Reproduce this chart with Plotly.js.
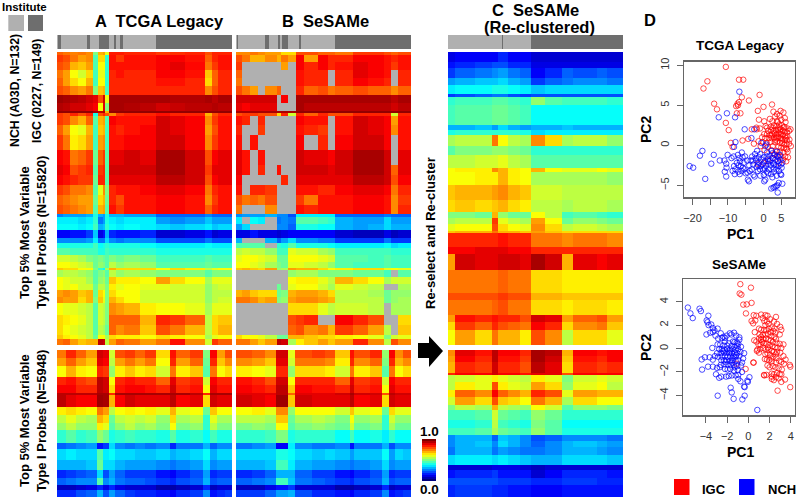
<!DOCTYPE html>
<html><head><meta charset="utf-8">
<script src="https://cdn.plot.ly/plotly-3.0.1.min.js"></script>
<style>html,body{margin:0;padding:0;background:#fff}#c{width:796px;height:497px}</style>
</head><body><div id="c"></div>
<script>
const n = null;
// ---- Institute annotation bars (sample index edges; 0 = NCH, 1 = IGC)
const instEdgesA = [0,2,6,48,53,68,72,73,84,92,94,101,106,159,281];
const instA = [0,1,0,1,0,1,0,1,0,1,0,1,0,1];
const instEdgesB = [0,2,3,47,53,67,70,74,84,101,105,159,281];
const instB = [0,1,0,1,0,1,0,1,0,1,0,1];
const instEdgesC = [0,87,89,133,281];
const instC = [0,1,0,1];
// ---- Probe bin edges
const rowsTypeII = [0,3,10,18,26,34,43,51,59,61,64,73,83,98,113,123,133,143,153,162,165,172,178,186,191,196,203,210,216,218,225,232,238,245,251,263,273,283,287,293];
const rowsTypeI = [0,8,16,27,35,43,45,57,65,73,80,93,99,110,120,128,135,140,147];
const rowsTypeIIC = [0,10,16,26,33,42,45,53,73,78,83,94,103,116,120,133,148,160,166,172,179,181,195,202,218,241,248,263,270,278,293];
const rowsTypeIC = [0,6,12,23,25,32,40,47,55,60,70,78,85,91,97,105,115,120,128,135,147];
// ---- Sample bin edges
const colsATop = [0,10,21,34,47,58,66,74,77,84,95,108,133,159,181,206,238,249,259,281];
const colsABot = [0,14,31,47,64,74,84,93,109,125,141,159,181,191,214,234,246,257,270,281];
const colsBTop = [0,10,22,35,47,66,72,84,96,109,132,148,159,188,212,238,249,260,281];
const colsBBot = [0,26,47,64,84,95,122,143,159,183,190,215,234,246,255,268,281];
const colsC = [0,11,43,71,80,96,116,133,156,183,201,239,255,281];
// ---- Methylation beta x 100
const aTop = [
[78,76,75,76,74,50,70,72,60,85,85,84,84,82,83,84,80,84,84],
[82,80,76,72,74,45,66,66,42,86,82,86,86,88,88,86,78,84,86],
[80,78,70,68,72,45,62,62,42,86,86,86,86,88,90,87,76,82,86],
[76,72,62,58,66,44,60,60,42,84,86,84,84,88,88,86,68,78,84],
[78,72,66,62,70,44,62,62,42,84,84,84,84,86,86,84,66,78,84],
[80,78,74,72,76,50,68,70,44,84,84,84,84,84,84,84,74,80,84],
[97,96,95,94,92,90,80,92,60,96,96,96,96,96,95,95,96,94,96],
[95,94,92,92,90,88,62,90,50,96,96,95,94,92,93,94,94,95,94],
[98,98,98,98,98,96,94,96,70,98,98,98,98,98,98,98,98,98,98],
[82,80,84,80,84,40,80,84,80,74,82,84,84,86,84,84,70,80,84],
[82,80,74,70,78,46,70,72,45,88,86,86,86,92,90,88,74,82,86],
[78,72,62,60,70,44,68,70,44,86,84,86,88,92,90,88,72,80,86],
[82,76,64,66,72,44,72,74,44,86,86,88,88,92,92,88,74,82,86],
[88,86,76,78,82,48,78,82,46,90,90,92,90,96,96,92,80,88,90],
[90,88,80,82,84,46,82,84,46,92,92,92,92,96,96,92,82,90,90],
[88,86,84,82,82,48,84,84,46,90,90,90,90,94,94,92,80,88,90],
[82,80,76,76,74,46,60,74,50,84,86,86,88,90,90,88,76,84,86],
[78,76,74,72,72,48,66,70,48,84,80,86,86,88,88,86,74,82,86],
[80,78,76,74,72,46,70,72,46,86,82,86,86,88,88,86,78,84,86],
[25,28,28,28,30,40,30,28,40,30,30,28,28,22,22,22,25,22,22],
[36,36,36,34,36,42,24,28,40,36,34,36,36,28,26,28,32,28,28],
[38,38,38,36,38,44,30,32,42,38,36,38,36,34,32,34,36,32,34],
[12,12,14,14,18,32,10,14,30,16,14,14,16,8,8,10,14,8,10],
[26,26,26,26,28,36,24,24,34,26,24,26,26,20,20,20,24,20,20],
[40,40,40,40,40,44,38,40,42,40,40,40,38,36,36,36,38,36,36],
[46,46,44,44,44,44,40,40,44,42,42,42,42,40,40,40,40,40,40],
[58,58,56,54,50,48,50,48,46,50,48,50,48,44,44,44,46,44,44],
[62,62,60,58,56,48,52,50,46,56,52,54,52,46,46,46,48,46,46],
[68,66,66,62,62,50,42,38,54,70,66,66,66,62,66,64,56,60,62],
[54,56,56,54,52,46,50,52,46,56,52,54,52,50,50,50,46,50,50],
[62,60,58,58,54,46,52,54,48,68,64,64,62,72,66,62,54,60,60],
[62,60,62,58,58,48,56,56,50,64,60,62,60,60,58,58,52,56,58],
[72,74,72,68,70,48,66,62,50,66,62,62,58,58,58,58,52,56,56],
[74,72,72,66,70,50,68,60,50,70,66,62,58,58,58,58,52,56,58],
[62,60,60,58,56,46,58,56,50,74,72,70,64,62,62,60,54,60,60],
[66,64,62,60,56,46,58,56,50,78,78,78,70,84,82,78,56,66,68],
[66,62,60,58,56,46,56,54,48,78,74,76,68,80,76,70,56,66,70],
[68,64,62,60,56,48,62,62,54,66,64,64,62,66,64,62,54,60,62],
[76,78,72,68,70,70,94,92,56,72,78,76,72,76,86,74,58,82,78]];
const aBot = [
[76,84,78,72,92,90,58,80,82,78,82,66,86,78,82,50,88,72,80],
[72,78,72,68,90,88,56,72,76,72,76,62,84,72,78,48,84,68,74],
[62,70,64,62,84,82,52,64,68,64,66,58,76,64,68,46,76,62,66],
[84,86,82,80,94,92,62,84,86,84,84,78,90,82,84,58,88,84,84],
[88,88,84,84,94,92,66,86,88,88,86,84,92,84,86,62,90,86,86],
[94,94,94,94,96,96,84,96,96,96,96,96,96,96,94,84,96,96,96],
[94,90,88,88,97,96,70,88,92,90,90,90,94,88,90,66,92,90,90],
[64,66,64,62,76,72,56,62,64,62,64,60,70,60,62,48,68,62,62],
[56,60,56,54,70,66,48,56,58,56,58,52,66,54,56,42,60,54,54],
[52,56,52,52,64,60,46,52,56,52,54,50,62,50,52,42,56,50,50],
[42,46,42,44,52,48,40,42,44,42,42,40,46,40,42,38,44,40,40],
[22,24,26,28,14,18,34,26,24,26,24,26,16,24,24,30,22,26,26],
[34,36,34,34,46,36,38,34,34,32,32,34,30,32,34,38,30,34,34],
[30,30,30,32,48,34,34,30,28,28,28,26,24,26,28,34,26,28,28],
[16,18,20,22,34,20,28,22,18,18,18,14,12,16,20,28,16,18,18],
[22,24,26,26,46,26,30,24,22,22,20,18,16,20,22,30,20,22,22],
[6,6,8,10,16,10,16,10,8,8,8,4,4,6,8,16,6,8,8],
[16,16,20,22,30,20,28,22,18,16,16,14,12,16,18,26,14,16,18]];
const bTop = [
[74,74,76,74,72,72,66,66,80,80,78,78,76,82,82,80,78,80],
[80,76,70,70,74,70,76,72,88,72,88,84,84,88,88,86,84,86],
[82,n,n,n,n,n,72,n,88,84,88,84,86,90,88,86,82,86],
[78,n,n,n,n,n,n,n,86,84,84,n,84,90,88,86,n,84],
[76,n,n,n,n,n,n,n,86,84,84,n,84,88,86,84,n,84],
[80,76,72,n,74,78,n,n,84,78,80,76,78,80,78,78,74,78],
[92,92,92,92,92,n,88,n,96,96,96,96,96,96,96,96,94,96],
[90,88,90,90,90,n,n,n,96,94,94,94,94,94,94,94,92,94],
[96,96,96,96,96,96,96,96,98,98,98,98,98,98,98,98,98,98],
[80,82,82,80,80,66,84,58,84,78,84,80,80,84,84,84,58,84],
[86,84,n,84,n,n,n,n,88,86,86,n,86,92,90,88,72,86],
[84,n,n,82,n,n,n,n,86,84,82,n,86,92,90,88,74,86],
[86,n,86,n,n,n,n,n,88,n,84,n,88,92,92,88,n,86],
[90,86,n,86,n,n,n,n,92,90,90,88,92,96,96,92,n,90],
[90,86,n,84,n,86,n,n,92,92,92,90,92,96,96,92,78,90],
[88,n,n,n,n,n,84,n,90,90,90,90,90,94,94,92,80,88],
[86,n,84,84,82,n,n,n,86,86,84,84,88,90,90,88,76,84],
[80,76,78,76,80,n,n,n,82,76,86,86,86,88,88,86,74,82],
[76,n,n,n,74,n,n,n,86,84,86,86,86,88,88,86,74,84],
[26,28,28,28,30,26,26,20,36,36,36,36,22,22,22,24,22,22],
[36,n,38,36,n,24,26,24,46,46,44,42,30,28,28,34,28,28],
[28,34,n,n,n,26,26,22,40,40,38,38,30,28,30,34,30,30],
[10,10,14,10,10,8,10,12,12,12,12,12,8,6,6,10,6,8],
[30,n,n,n,30,22,28,34,26,26,24,24,18,18,18,24,18,18],
[45,46,46,46,n,42,40,46,40,40,40,38,36,36,36,38,34,36],
[56,58,56,56,52,44,44,60,58,58,54,52,44,44,44,44,42,42],
[60,62,62,60,58,48,48,62,62,62,60,58,46,46,44,46,44,44],
[62,62,60,58,54,50,48,60,60,58,56,52,46,44,44,46,44,44],
[68,70,68,66,72,52,54,72,70,70,66,62,64,66,66,60,62,60],
[n,n,n,n,n,n,n,52,54,54,50,50,50,48,48,44,n,46],
[n,n,n,n,n,n,n,62,64,64,60,56,70,66,62,54,58,58],
[n,n,n,n,n,48,n,60,62,62,58,54,60,58,56,n,n,54],
[70,72,68,66,66,48,50,70,72,72,70,66,56,56,54,48,52,52],
[76,76,74,70,72,50,52,72,74,74,72,70,56,56,56,48,52,54],
[n,n,n,n,n,n,n,66,66,66,60,56,58,58,56,n,54,54],
[n,n,n,n,n,n,n,80,82,84,n,n,88,84,80,n,n,66],
[n,n,n,n,n,n,n,78,80,74,76,70,82,78,72,56,n,68],
[66,62,62,60,56,48,48,70,70,68,66,66,64,62,60,50,58,60],
[76,76,72,68,72,94,92,54,64,68,72,68,72,84,74,56,80,74]];
const bBot = [
[80,78,74,92,60,80,82,80,68,86,80,84,52,88,74,80],
[74,72,68,90,58,76,76,74,64,84,74,78,50,84,70,74],
[64,62,60,84,52,66,66,64,58,76,64,68,46,76,62,66],
[86,84,80,92,62,84,84,84,78,90,82,84,58,88,84,84],
[88,86,84,94,68,88,86,86,84,92,84,86,62,90,86,86],
[90,90,90,94,78,90,90,90,92,96,92,92,80,94,92,92],
[92,90,88,97,68,92,90,90,90,94,88,90,66,92,90,90],
[62,64,60,74,52,62,62,62,58,68,60,62,48,66,60,60],
[56,56,54,68,48,54,56,54,50,62,52,54,42,58,52,52],
[50,52,50,62,46,50,52,50,48,58,48,50,42,54,48,48],
[42,42,44,50,40,42,42,42,38,44,38,40,36,42,38,38],
[24,26,28,12,36,26,24,24,26,14,24,24,30,20,26,26],
[34,34,34,40,38,34,32,34,32,28,32,32,38,28,34,32],
[30,30,32,44,36,30,28,28,26,24,26,28,34,26,28,28],
[16,18,22,30,30,22,18,18,14,12,16,20,28,16,18,18],
[22,24,26,44,32,24,22,20,18,16,20,22,30,20,22,22],
[6,6,10,14,18,8,8,8,4,4,6,8,16,6,8,8],
[18,18,22,28,30,20,16,16,14,12,16,18,26,14,16,18]];
const cTop = [
[10,12,12,12,16,12,12,8,8,8,8,8,8],
[14,16,18,20,20,16,16,10,10,10,10,10,10],
[18,22,24,26,28,24,22,12,16,22,20,22,20],
[28,30,32,32,34,30,28,18,22,24,26,26,24],
[36,38,38,40,40,38,36,32,34,34,34,34,34],
[18,20,22,24,24,20,18,20,20,20,20,20,20],
[42,44,44,46,46,44,42,52,46,44,44,44,42],
[44,46,46,48,48,46,44,38,38,38,38,38,38],
[30,30,32,28,34,30,28,30,30,32,30,30,30],
[40,42,42,42,42,42,40,34,36,36,36,36,36],
[54,56,56,76,62,56,54,74,66,54,56,56,52],
[46,50,50,52,52,50,48,42,42,42,42,42,42],
[56,56,58,58,60,56,54,46,46,46,46,46,46],
[62,64,64,74,70,64,62,70,62,60,60,62,60],
[62,62,64,64,70,64,62,54,54,54,54,54,52],
[68,70,70,72,74,70,68,58,58,56,56,56,56],
[66,68,66,68,70,66,64,56,56,54,56,56,54],
[50,50,48,70,52,48,48,62,56,44,46,44,42],
[54,56,56,82,60,56,54,72,62,48,52,50,48],
[60,62,62,80,66,62,60,74,66,56,58,56,54],
[68,70,70,76,70,70,68,72,68,66,66,66,66],
[84,84,84,84,86,84,84,76,76,74,76,76,74],
[88,88,90,90,90,88,88,84,84,84,84,84,84],
[72,92,90,90,92,92,90,96,92,70,90,88,90],
[76,76,76,76,78,76,76,66,66,64,64,64,64],
[80,80,80,80,82,80,80,70,70,68,68,68,68],
[76,76,76,78,80,76,76,66,66,64,66,66,64],
[72,86,84,86,84,84,80,92,90,72,78,80,72],
[66,82,78,84,80,78,76,88,84,66,74,76,68],
[62,72,66,76,70,70,64,80,74,56,66,66,60]];
const cBot = [
[74,90,86,94,88,88,84,96,94,70,88,86,88],
[72,88,84,94,86,86,82,96,92,68,86,84,88],
[70,84,82,92,84,84,80,94,90,66,84,82,84],
[84,88,88,92,88,88,86,90,90,80,88,88,88],
[56,58,60,64,60,58,56,64,60,50,58,60,58],
[56,64,60,80,64,60,58,72,66,52,60,62,56],
[64,78,74,88,78,74,70,84,80,60,72,70,70],
[58,72,66,80,68,66,62,76,70,54,66,62,62],
[50,56,54,70,56,54,52,62,58,46,52,52,50],
[44,44,46,58,48,46,44,52,48,42,42,42,42],
[40,40,42,56,44,42,40,50,46,38,38,38,38],
[44,44,46,54,48,46,44,52,46,40,40,40,40],
[26,30,30,22,32,30,26,20,22,26,26,26,24],
[26,30,32,26,34,30,26,22,26,30,32,30,28],
[24,30,30,24,28,26,24,24,26,30,30,28,26],
[34,36,36,34,36,34,32,30,30,34,34,34,32],
[8,8,8,10,10,10,8,6,8,8,8,8,8],
[14,16,16,18,14,14,14,8,12,16,16,16,14],
[20,20,20,20,18,18,18,16,16,18,18,16,16],
[16,18,18,16,16,14,14,12,12,14,14,14,14]];
const scaleLevels = [[100],[95],[90],[85],[80],[75],[70],[65],[60],[55],[50],[45],[40],[35],[30],[25],[20],[15],[10],[5],[0]];
// ---- PCA scores [PC1, PC2]
const tcgaIgc = [[-10.6,9.8],[-15.8,8],[-16.9,7.1],[-6.9,8.2],[-5.7,8.2],[-1.1,6.3],[-6.1,6],[-4.1,5.6],[-13.9,5.2],[-13.1,4.5],[-7.3,5.2],[-6.9,5.4],[-7.7,4.9],[-7.2,5],[-7.5,4],[-6.5,4],[2.4,5.1],[0,4.8],[-1.6,4.3],[-10.6,2.8],[-9.8,1.9],[-9.2,.3],[-8.7,-.2],[-5.9,.6],[-4.3,.8],[-3.3,2],[-1.9,2],[2.8,4.2],[4.8,4.3],[5.6,4.1],[3.8,3.9],[3.3,3.6],[4.5,3.7],[6,3.4],[1.8,3.3],[-1.3,3.2],[.2,3],[2.5,3],[3.8,3],[5,3.2],[6.2,2.9],[.6,2.4],[-2,2.2],[-1,2.1],[1,2.2],[2,2.3],[2.9,2.5],[3.6,2.4],[4.4,2.6],[5.2,2.5],[5.9,2.3],[6.8,2.1],[7.6,2],[1.3,1.8],[2.2,1.9],[2.9,1.8],[3.5,1.9],[4.1,1.9],[4.8,2],[5.4,1.8],[6,1.7],[6.6,1.6],[7.2,1.8],[.2,1.4],[1,1.4],[1.8,1.3],[2.5,1.4],[3.1,1.5],[3.7,1.4],[4.3,1.5],[4.9,1.4],[5.5,1.3],[6.1,1.2],[6.7,1.1],[-.4,1],[.5,.9],[1.5,.9],[2.3,.9],[3,1],[3.6,.9],[4.2,1],[4.8,.9],[5.4,.8],[6,.7],[6.6,.6],[7.3,.7],[-1.4,.5],[-.2,.4],[.9,.3],[2,.4],[3.2,.4],[3.9,.5],[4.6,.3],[5.3,.3],[5.9,.1],[6.5,.1],[7.2,.2],[-2.7,.2],[-.8,-.1],[1.2,-.2],[2.6,-.1],[4.2,-.2],[5,-.3],[5.8,-.3],[6.3,-.4],[7.7,-.1],[.3,-.6],[2.2,-.6],[3.6,-.7],[4.6,-.8],[5.6,-.9],[6.8,-.8],[3,-1.1],[4,-1.3],[5,-1.4],[6.1,-1.4],[6.9,-1.5],[2.6,-1.6],[5.5,-1.8],[6.4,-2],[1.2,-1.9],[4.4,-2.2],[.1,-2.2],[-1.6,-2.3],[6.6,-.5],[3.3,.7],[4.8,1.7],[5.7,2.2],[2.1,1.2],[3.8,1.1],[4.5,2.2],[5.1,.6],[6.3,.9],[4,2.9],[2.6,2.2]];
const tcgaNch = [[-20.8,-2.6],[-19.8,-2.8],[-17.9,-1.3],[-17.2,-.7],[-16.4,-4.2],[-14.7,-2.3],[-14,-1.2],[-12.3,-1.9],[-12.6,3.5],[-10.3,4],[-8,3.5],[-6.8,6.7],[-5.3,2],[-7.9,.4],[-8.3,-.2],[-3.4,.9],[-2.6,2],[-10.1,-1.2],[-11,-1.9],[-10.5,-2.3],[-10.4,-2.8],[-10.9,-3.3],[-10.5,-3.9],[-9,-1.6],[-8.4,-1.4],[-8.3,-2.6],[-7.9,-3],[-8.1,-3.6],[-7.5,-2.2],[-7.2,-1.2],[-7.1,-2.5],[-7.1,-3.3],[-6.7,-3.6],[-6.4,-2.6],[-6.2,-3.2],[-6.1,-.9],[-5.9,-1.5],[-5.6,-2.2],[-5.4,-3],[-5.2,-1.4],[-5,-3.5],[-4.6,-1.9],[-4.5,-3.4],[-4.4,-4.3],[-4.1,-4.5],[-3.9,-3.2],[-3.2,-1.4],[-3,-1.9],[-2.9,-2.4],[-2.8,-3.7],[-2.5,-3.9],[-2.2,-1.6],[-2,-1.9],[-1.9,-2.7],[-1.6,-3.2],[-1.3,-1.5],[-1.2,-2.2],[-1,-3],[-.9,-3.8],[-.6,-1.8],[-.3,-2.4],[-.1,-3],[0,-1.5],[.2,-4.5],[.5,-4.3],[.4,-2],[.7,-2.6],[.9,-3.3],[.9,-1.4],[1.2,-1.7],[1.3,-2.3],[1.5,-3],[1.7,-1.3],[1.9,-1.9],[2,-2.5],[2.1,-3.6],[2.2,-5.4],[2.8,-5.3],[3.1,-5.2],[3.6,-5.1],[3.9,-5],[4.3,-4.7],[5.3,-4.8],[4,-5.9],[2.5,-1],[2.6,-1.6],[2.7,-2.2],[2.8,-2.9],[3,-3.3],[3.2,-1.2],[3.4,-1.8],[3.5,-2.5],[3.6,-3],[3.7,-3.8],[3.8,-.8],[3.9,-1.4],[4.1,-2],[4.2,-2.6],[4.4,-3.2],[4.6,-1.2],[4.7,-1.8],[4.9,-2.4],[4.8,-3.6],[5,-3.7],[5.3,-2.2],[5.1,-2.8],[-.6,.3],[.5,-.1],[.8,.1],[-.9,-1.1],[-1.8,-.7],[-2.4,-1.1],[1,-.9],[2.3,-.7],[-6.8,-1.6],[-4,-2.5],[-3.3,-3],[-8.7,-3.2],[-6.6,-2],[-5.8,-2.8],[-3.6,-1.9],[.1,-3.7],[1.3,-3.5],[2.5,-4],[3,-2.4],[4.3,-1.5],[-1.5,-2.5],[-.8,-2.6],[.3,-2.9],[1.6,-2]];
const sesIgc = [[-.76,5.5],[.24,5.2],[-.82,4.7],[-.66,4.6],[-.48,3.75],[-.16,3.77],[.3,3.9],[-.23,3],[.5,2.85],[.75,2.8],[1.2,2.9],[1.6,2.85],[1.8,2.8],[2.6,2.7],[.3,2.35],[.45,2.15],[.65,2.4],[1.35,2.6],[1.5,2.35],[1.75,2.3],[2.05,2.5],[2.4,2.3],[2.7,2.1],[3,1.85],[3.1,1.6],[.6,1.4],[1,1.7],[1.2,1.6],[1.5,1.6],[1.7,1.55],[1.9,1.7],[2.1,1.4],[2.35,1.5],[2.55,1.35],[2.95,1.2],[1.05,1.2],[1.35,1.15],[1.6,1.2],[1.85,1.25],[2.15,1.05],[2.45,1],[.55,.7],[.75,.6],[1,.85],[1.2,.75],[1.4,.8],[1.65,.85],[1.9,.75],[2.1,.7],[2.3,.55],[2.65,.5],[2.95,.4],[3.3,.35],[.95,.35],[1.15,.3],[1.45,.45],[1.7,.4],[2,.3],[2.25,.2],[2.5,.1],[2.75,.05],[3.1,.05],[.85,-.1],[1.1,-.05],[1.4,.05],[1.65,-.1],[1.9,-.1],[2.2,-.2],[2.4,-.3],[2.7,-.3],[3,-.35],[.8,-.2],[1,-.35],[1.6,-.5],[1.8,-.4],[2.05,-.55],[2.35,-.7],[2.65,-.8],[3.3,-.65],[3.5,-.95],[.5,-1.2],[1.55,-.9],[1.75,-.95],[1.95,-1],[2.2,-1.1],[2.6,-1.2],[2.9,-1.05],[3.1,-1.15],[3.35,-1.3],[3.9,-1.4],[3.95,-1.55],[1.8,-1.45],[2,-1.6],[2.3,-1.5],[2.55,-1.6],[2.85,-1.7],[3.15,-1.8],[1.5,-2.3],[1.7,-2.25],[2.2,-2.15],[2.4,-2.2],[2.7,-2.1],[2.95,-2.2],[3.1,-2.2],[2.2,-2.6],[2.4,-2.7],[2.85,-2.55],[3.1,-2.85],[3.45,-2.65],[2.75,-3.6],[3.94,-3.3],[-.26,-1.75],[-1.1,-1.3],[.46,-1.2],[1.47,-2.26],[2.2,-2.4],[2.6,-2.45],[1.2,1],[1.9,2.1],[1.6,2],[2.2,1.8],[2.6,.8],[1.3,.55],[2.45,1.7],[1.85,.1],[2.15,-.85],[2.6,-.5]];
const sesNch = [[-5.7,3.5],[-5.46,3],[-5.24,2.6],[-4.6,3.4],[-4.47,3.2],[-3.77,2.8],[-3.93,2.4],[-3.85,2.25],[-3.75,2],[-3.5,2.05],[-3.35,1.75],[-3.2,1.55],[-3.95,1.2],[-3.6,1.35],[-3.35,1.4],[-2.9,1.7],[-2.6,1.3],[-3.1,1.1],[-2.85,.85],[-2.5,.9],[-2.35,1],[-2.2,.9],[-2.05,1.1],[-1.75,1.3],[-1.35,1.35],[-1.15,1.1],[-1.6,1.2],[-.85,.95],[-2.2,.6],[-1.3,.55],[-1.1,.5],[-.95,.4],[-2.65,.35],[-2.35,.25],[-1.6,.2],[-1.3,.15],[-1.05,.2],[-.7,.15],[-2.75,-.05],[-2.5,-.05],[-2.25,-.1],[-2,-.05],[-1.75,-.1],[-1.5,-.05],[-1.2,-.1],[-.95,-.05],[-2.95,-.4],[-2.6,-.4],[-2.3,-.35],[-2.05,-.35],[-1.8,-.4],[-1.55,-.4],[-1.3,-.35],[-1.05,-.4],[-.75,-.3],[-3.15,-.65],[-2.85,-.7],[-2.5,-.7],[-2.2,-.65],[-1.95,-.7],[-1.7,-.7],[-1.4,-.65],[-1.2,-.7],[-.85,-.65],[-.5,-.85],[-4.4,-.93],[-4.1,-.75],[-3.65,-.75],[-3.35,-.95],[-2.55,-1],[-2.3,-1],[-2.05,-1],[-1.75,-1.05],[-1.5,-1],[-1.2,-1.05],[-.95,-1],[-.6,-1.2],[-3.8,-1.55],[-3.35,-1.55],[-2.95,-1.65],[-2.6,-1.4],[-2.25,-1.35],[-1.95,-1.35],[-1.65,-1.4],[-1.35,-1.4],[-1.05,-1.5],[-.7,-1.45],[-4.36,-1.8],[-3.05,-2.2],[-2.75,-2.5],[-2.55,-2.4],[-2.2,-1.75],[-1.95,-1.8],[-1.7,-1.75],[-1.35,-1.9],[-1,-1.85],[-.6,-2],[-2.1,-2.4],[-1.85,-2.35],[-1.55,-2.3],[-1.2,-2.3],[-.95,-2.6],[-.75,-2.8],[.1,-2.45],[-.1,-2.75],[-.05,-2.85],[-.4,-3.25],[-.35,-3.3],[-2.89,-4.03],[-1.67,-3.35],[-1.57,-3.75],[-1.39,-4.3],[-.57,-4.35],[-.35,-4.03],[.84,-5.25],[-2.4,-.2],[-1.85,.45],[-1.45,.6],[-1.5,-.85],[-2.7,-1.6],[-1.75,-.25],[-2.15,-1.15],[-1.15,-.55],[-.4,-.4],[-3.4,.05],[-2.9,.35],[-1.3,-1.6],[-.85,.75],[-2,.25],[-1.55,-1.2],[-.95,-2.25]];
const tcgaTicksX = [-20,-15,-10,-5,0,5], tcgaTextX = ['−20','','−10','','0','5'];
const tcgaTicksY = [-5,0,5,10], tcgaTextY = ['−5','0','5','10'];
const sesTicks = [-4,-2,0,2,4], sesText = ['−4','−2','0','2','4'];

const W = 796, H = 497;
const cs = [[0,'#00007f'],[.125,'#0000ff'],[.375,'#00ffff'],[.625,'#ffff00'],[.875,'#ff0000'],[1,'#7f0000']];
const traces = [], layout = {width:W,height:H,margin:{l:0,r:0,t:0,b:0},paper_bgcolor:'#fff',plot_bgcolor:'rgba(0,0,0,0)',showlegend:false,shapes:[],annotations:[],font:{family:'Liberation Sans'}};
let ax = 0;
const px = v => v/W, py = v => 1-v/H;
function axes(x0,x1,y0,y1,xo,yo){ ax++; const s=ax===1?'':ax;
  layout['xaxis'+s]=Object.assign({domain:[px(x0),px(x1)],anchor:'y'+s,fixedrange:true,visible:false},xo);
  layout['yaxis'+s]=Object.assign({domain:[py(y1),py(y0)],anchor:'x'+s,fixedrange:true,visible:false},yo);
  return {xaxis:'x'+s,yaxis:'y'+s};
}
function heat(x0,x1,y0,y1,xs,ys,z){
  const a=axes(x0,x1,y0,y1,{range:[xs[0],xs[xs.length-1]]},{range:[ys[ys.length-1],ys[0]]});
  traces.push(Object.assign({type:'heatmap',x:xs,y:ys,z:z,zmin:0,zmax:100,colorscale:cs,showscale:false,zsmooth:false,hoverinfo:'skip'},a));
}
function inst(x0,x1,xs,z){
  const a=axes(x0,x1,35,49,{range:[0,281]},{range:[0,1]});
  traces.push(Object.assign({type:'heatmap',x:xs,y:[0,1],z:[z],zmin:0,zmax:1,colorscale:[[0,'#b0b0b0'],[1,'#6e6e6e']],showscale:false,hoverinfo:'skip'},a));
}
function rect(x0,y0,x1,y1,c,layer){layout.shapes.push({type:'rect',xref:'paper',yref:'paper',x0:px(x0),x1:px(x1),y0:py(y0),y1:py(y1),fillcolor:c,line:{width:0},layer:layer||'above'});}
function txt(x,y,t,size,o){layout.annotations.push(Object.assign({xref:'paper',yref:'paper',x:px(x),y:py(y),text:t,showarrow:false,xanchor:'center',yanchor:'middle',font:{family:'Liberation Sans',size:size,color:'#000'}},o||{}));}
function bold(s){return '<b>'+s+'</b>';}

rect(236,52,411,345,'#b0b0b0','below');
inst(57,232,instEdgesA,instA); inst(236,411,instEdgesB,instB); inst(448,623,instEdgesC,instC);
heat(57,232,52,345,colsATop,rowsTypeII,aTop); heat(57,232,350,497,colsABot,rowsTypeI,aBot);
heat(236,411,52,345,colsBTop,rowsTypeII,bTop); heat(236,411,350,497,colsBBot,rowsTypeI,bBot);
heat(448,623,52,345,colsC,rowsTypeIIC,cTop); heat(448,623,350,497,colsC,rowsTypeIC,cBot);
heat(422,436,439,481,[0,1],[0,1,2,3,4,5,6,7,8,9,10,11,12,13,14,15,16,17,18,19,20,21],scaleLevels);

function scatter(x0,x1,y0,y1,xr,yr,xt,xl,yt,yl,r,b){
  const line={showgrid:false,zeroline:false,visible:true,showline:true,mirror:true,linecolor:'#666',linewidth:1.5,ticks:'outside',ticklen:6,tickcolor:'#666',tickfont:{family:'Liberation Sans',size:11,color:'#333'}};
  const a=axes(x0,x1,y0,y1,Object.assign({},line,{range:xr,tickmode:'array',tickvals:xt,ticktext:xl,ticklabelstandoff:4}),Object.assign({},line,{range:yr,tickmode:'array',tickvals:yt,ticktext:yl,tickangle:-90,ticklabelstandoff:3}));
  const m=c=>({symbol:'circle-open',size:5.5,line:{color:c,width:.7},color:c});
  traces.push(Object.assign({type:'scatter',mode:'markers',x:r.map(p=>p[0]),y:r.map(p=>p[1]),marker:m('#ff0000'),hoverinfo:'skip'},a));
  traces.push(Object.assign({type:'scatter',mode:'markers',x:b.map(p=>p[0]),y:b.map(p=>p[1]),marker:m('#0000ff'),hoverinfo:'skip'},a));
}
scatter(684.3,795,61.7,197.3,[-22.3,8.87],[-6.5,10.45],tcgaTicksX,tcgaTextX,tcgaTicksY,tcgaTextY,tcgaIgc,tcgaNch);
scatter(683.3,795,279,415,[-6.13,4.39],[-5.68,5.94],sesTicks,sesText,sesTicks,sesText,sesIgc,sesNch);

rect(8.3,15,24,31,'#b0b0b0'); rect(28,15,43,31,'#6e6e6e');
rect(674,479,689.5,495,'#ff0000'); rect(739,479,754.5,495,'#0000ff');
layout.shapes.push({type:'path',xref:'paper',yref:'paper',fillcolor:'#000',line:{width:0},
  path:'M'+[[418,343],[429,343],[429,336],[443,351],[429,367],[429,358],[418,358]].map(p=>px(p[0])+','+py(p[1])).join(' L')+' Z'});

txt(24,7,bold('Institute'),11.5);
txt(159,21,bold('A  TCGA Legacy'),16.5);
txt(325,21,bold('B  SeSAMe'),16.5);
txt(535.5,10,bold('C  SeSAMe'),16.5);
txt(539,27,bold('(Re-clustered)'),16.5);
txt(650,20,bold('D'),16.5);
txt(15,91,bold('NCH (A03D, N=132)'),12.3,{textangle:-90});
txt(37,91,bold('IGC (0227, N=149)'),12.3,{textangle:-90});
txt(24,233,bold('Top 5% Most Variable'),13,{textangle:-90});
txt(41,233,bold('Type II Probes (N=15820)'),13,{textangle:-90});
txt(24,421,bold('Top 5% Most Variable'),13,{textangle:-90});
txt(41,421,bold('Type I Probes (N=5948)'),13,{textangle:-90});
txt(430,233,bold('Re-select and Re-cluster'),13,{textangle:-90});
txt(429,431,bold('1.0'),13.5); txt(429,489,bold('0.0'),13.5);
txt(740,46,bold('TCGA Legacy'),13.5); txt(739.5,264,bold('SeSAMe'),13.5);
txt(740,234,bold('PC1'),14); txt(646,130,bold('PC2'),14,{textangle:-90});
txt(740,452,bold('PC1'),14); txt(646,348,bold('PC2'),14,{textangle:-90});
txt(714,489,bold('IGC'),13); txt(782,489,bold('NCH'),13);

Plotly.newPlot('c',traces,layout,{displayModeBar:false,staticPlot:true});
</script></body></html>
